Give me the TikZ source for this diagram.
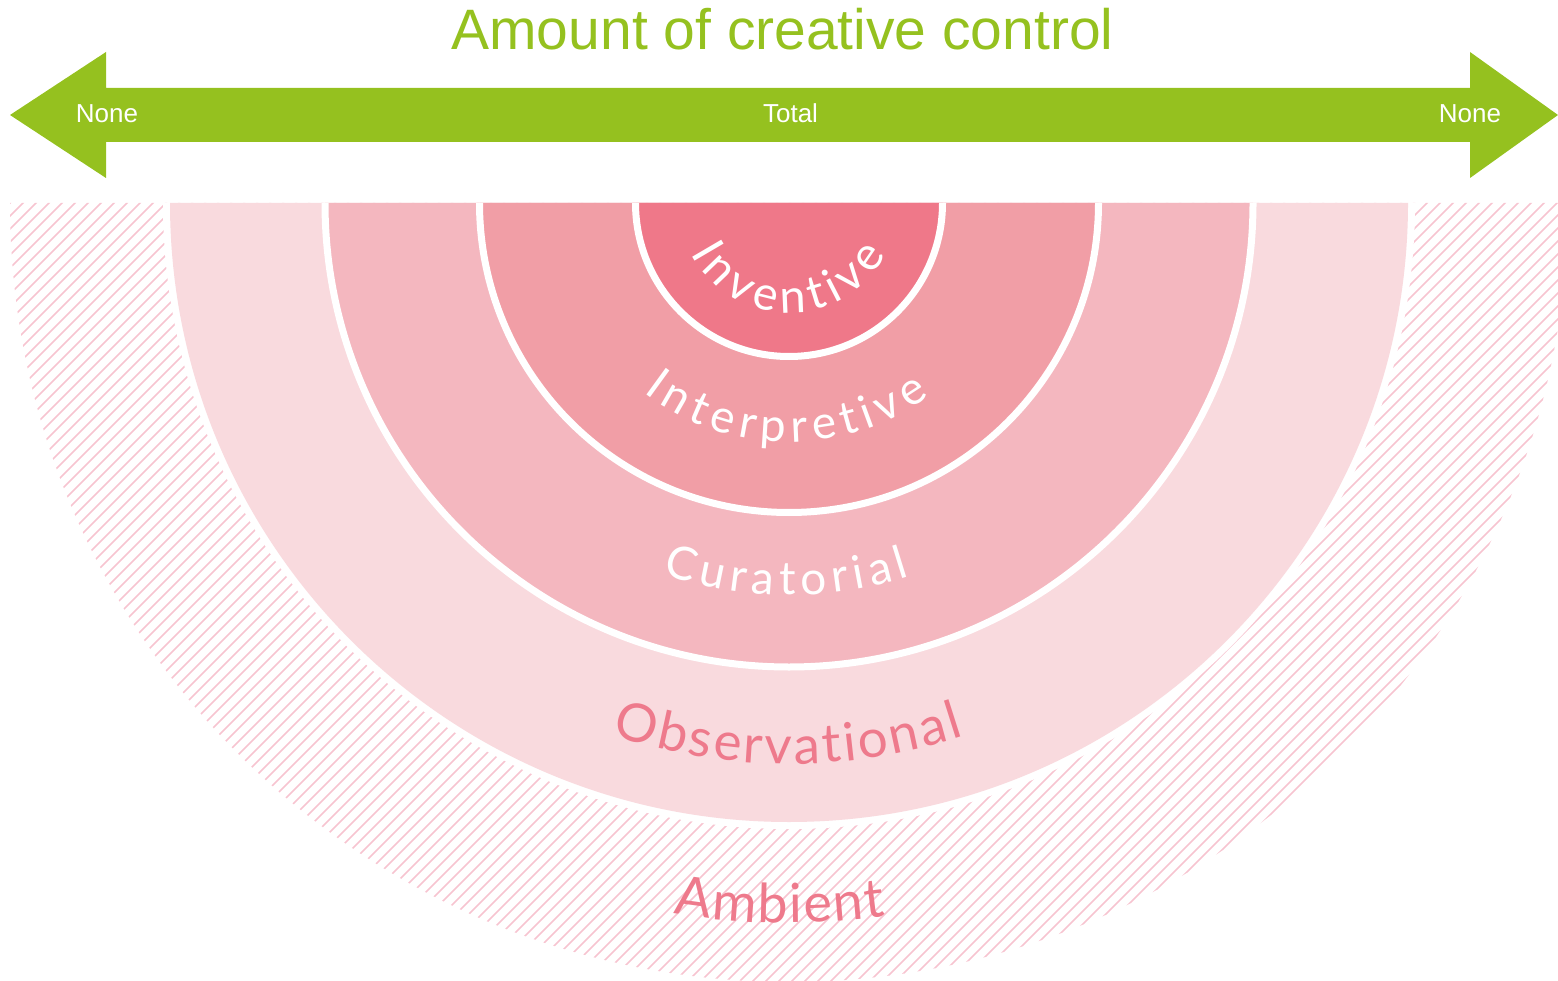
\documentclass[tikz,border=0pt]{standalone}
\usepackage{fontspec}
\setmainfont{Liberation Sans}
\newfontfamily\lblfont{Lato}
\usetikzlibrary{decorations.text}
\definecolor{grn}{HTML}{95C11F}
\definecolor{cinv}{HTML}{EF7889}
\definecolor{cint}{HTML}{F19EA6}
\definecolor{ccur}{HTML}{F4B7BF}
\definecolor{cobs}{HTML}{F9DADE}
\definecolor{chatch}{HTML}{F7C4D0}
\definecolor{ctxt}{HTML}{EE7A8C}
\begin{document}
\begin{tikzpicture}[x=1pt,y=1pt,
  hatchline/.style={chatch, line width=1.7pt},
  sep/.style={white, line width=7pt},
  smalllbl/.style={text=white, font=\fontsize{26}{26}\selectfont, anchor=base, inner sep=0pt}]
\useasboundingbox (0,0) rectangle (1558,-981);
\coordinate (ctr) at (789,-203);
% hatched ambient zone
\begin{scope}
  \clip (0,0) rectangle (1558,-981);
  \clip ([shift={(ctr)}]180:779) arc[start angle=180, end angle=360, radius=779] -- cycle;
  \foreach \c in {213,226,...,2570}{
    \draw[hatchline] ({\c-195},-195) -- ({\c-1000},-1000);
  }
\end{scope}
% bands
\fill[white] ([shift={(ctr)}]180:626) arc[start angle=180, end angle=360, radius=626] -- cycle;
\fill[cobs] ([shift={(ctr)}]180:619) arc[start angle=180, end angle=360, radius=619] -- cycle;
\fill[ccur] ([shift={(ctr)}]180:464) arc[start angle=180, end angle=360, radius=464] -- cycle;
\draw[sep] ([shift={(ctr)}]180:464) arc[start angle=180, end angle=360, radius=464];
\fill[cint] ([shift={(ctr)}]180:309.5) arc[start angle=180, end angle=360, radius=309.5] -- cycle;
\draw[sep] ([shift={(ctr)}]180:309.5) arc[start angle=180, end angle=360, radius=309.5];
\fill[cinv] ([shift={(ctr)}]180:153.5) arc[start angle=180, end angle=360, radius=153.5] -- cycle;
\draw[sep] ([shift={(ctr)}]180:153.5) arc[start angle=180, end angle=360, radius=153.5];
% curved labels
\path[decorate, decoration={text along path, text align={fit to path}, text color=white,
  text={|\lblfont\fontsize{47}{47}\selectfont|Inventive}}]
  ([shift={(ctr)}]207:110) arc[start angle=207, end angle=332, radius=110];
\path[decorate, decoration={text along path, text align={fit to path}, text color=white,
  text={|\lblfont\fontsize{46}{46}\selectfont|Interpretive}}]
  ([shift={(ctr)}]232.5:239) arc[start angle=232.5, end angle=306, radius=239];
\path[decorate, decoration={text along path, text align={fit to path}, text color=white,
  text={|\lblfont\fontsize{46}{46}\selectfont|Curatorial}}]
  ([shift={(ctr)}]251.2:392) arc[start angle=251.2, end angle=288, radius=392];
\path[decorate, decoration={text along path, text align={fit to path}, text color=ctxt,
  text={|\lblfont\fontsize{53}{53}\selectfont|Observational}}]
  ([shift={(ctr)}]251.6:561) arc[start angle=251.6, end angle=288.2, radius=561];
\path[decorate, decoration={text along path, text align={fit to path}, text color=ctxt,
  text={|\lblfont\fontsize{54}{54}\selectfont|Ambient}}]
  ([shift={(ctr)}]260.8:720) arc[start angle=260.8, end angle=277.7, radius=720];
% double arrow
\fill[grn] (10,-115) -- (106,-52) -- (106,-88) -- (1470,-88) -- (1470,-52) -- (1558,-115)
  -- (1470,-178) -- (1470,-142) -- (106,-142) -- (106,-178) -- cycle;
\node[smalllbl] (nl) at (107,-123) {None};
\node[smalllbl] (tot) at (790.5,-123) {Total};
\node[smalllbl] (nr) at (1470,-123) {None};
\node[text=grn, font=\fontsize{57}{57}\selectfont, anchor=base, inner sep=0pt] (title) at (782.5,-50) {Amount of creative control};
\end{tikzpicture}
\end{document}
